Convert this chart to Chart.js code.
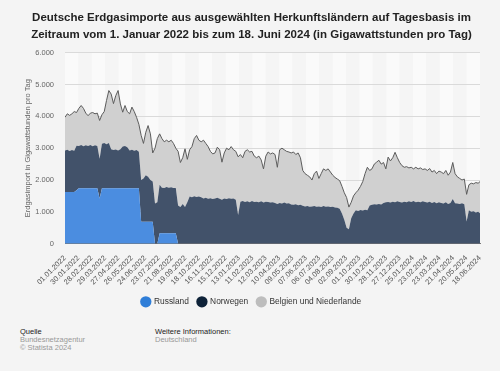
<!DOCTYPE html>
<html><head><meta charset="utf-8">
<script src="https://cdn.jsdelivr.net/npm/chart.js@4.4.1/dist/chart.umd.min.js"></script>
<style>
html,body{margin:0;padding:0;background:#f4f4f4;width:500px;height:371px;overflow:hidden;font-family:"Liberation Sans",Arial,sans-serif}
#wrap{position:absolute;left:0;top:0;width:500px;height:320px}
.foot{position:absolute;font-size:7.5px;line-height:8px}
.foot .h{color:#222}
.foot .g{color:#999}
</style></head><body>
<div id="wrap"><canvas id="c" width="500" height="320"></canvas></div>
<div class="foot" style="left:20px;top:328px"><div class="h">Quelle</div><div class="g">Bundesnetzagentur</div><div class="g">© Statista 2024</div></div>
<div class="foot" style="left:155px;top:328px"><div class="h">Weitere Informationen:</div><div class="g">Deutschland</div></div>
<script>
const tickLabels = ["01.01.2022","30.01.2022","28.02.2022","29.03.2022","27.04.2022","26.05.2022","24.06.2022","23.07.2022","21.08.2022","19.09.2022","18.10.2022","16.11.2022","15.12.2022","13.01.2023","11.02.2023","12.03.2023","10.04.2023","09.05.2023","07.06.2023","06.07.2023","04.08.2023","02.09.2023","01.10.2023","30.10.2023","28.11.2023","27.12.2023","25.01.2024","23.02.2024","23.03.2024","21.04.2024","20.05.2024","18.06.2024"];

// day index since 01.01.2022
const days = [0,5,10,15,20,25,30,35,40,45,50,55,60,65,70,75,80,85,90,95,100,105,110,115,120,125,130,135,140,145,150,155,160,165,170,175,180,185,190,195,200,205,210,215,220,225,230,235,240,245,250,255,260,265,270,275,280,285,290,295,300,305,310,315,320,325,330,335,340,345,350,355,360,365,370,375,380,385,390,395,400,405,410,415,420,425,430,435,440,445,450,455,460,465,470,475,480,485,490,495,500,505,510,515,520,525,530,535,540,545,550,555,560,565,570,575,580,585,590,595,600,605,610,615,620,625,630,635,640,645,650,655,660,665,670,675,680,685,690,695,700,705,710,715,720,725,730,735,740,745,750,755,760,765,770,775,780,785,790,795,800,805,810,815,820,825,830,835,840,845,850,855,860,865,870,875,880,885,890,895,899];

const russland = [1620,1620,1620,1620,1620,1680,1740,1740,1740,1740,1740,1740,1740,1740,1740,1420,1740,1740,1740,1740,1740,1740,1740,1740,1740,1740,1740,1740,1740,1740,1740,1740,1740,690,690,690,690,690,690,0,0,330,330,330,330,330,330,330,330,0,0,0,0,0,0,0,0,0,0,0,0,0,0,0,0,0,0,0,0,0,0,0,0,0,0,0,0,0,0,0,0,0,0,0,0,0,0,0,0,0,0,0,0,0,0,0,0,0,0,0,0,0,0,0,0,0,0,0,0,0,0,0,0,0,0,0,0,0,0,0,0,0,0,0,0,0,0,0,0,0,0,0,0,0,0,0,0,0,0,0,0,0,0,0,0,0,0,0,0,0,0,0,0,0,0,0,0,0,0,0,0,0,0,0,0,0,0,0,0,0,0,0,0,0,0,0,0,0,0,0,0];

const norwegen = [1310,1330,1290,1320,1300,1400,1330,1360,1320,1350,1330,1360,1320,1350,1330,1250,1400,1420,1380,1420,1230,1200,1220,1190,1230,1310,1330,1290,1190,1210,1180,1200,1150,1310,1360,1460,1410,1310,1260,1260,1300,1520,1430,1420,1450,1430,1440,1420,1420,1200,1150,1250,1150,1300,1480,1460,1490,1470,1480,1460,1420,1440,1410,1430,1400,1420,1440,1410,1380,1420,1400,1430,1410,1420,1380,900,1320,1340,1310,1330,1300,1340,1310,1320,1300,1330,1290,1320,1310,1290,1300,1280,1250,1280,1260,1290,1260,1270,1230,1220,1240,1210,1220,1190,1170,1180,1160,1170,1180,1160,1170,1150,1180,1160,1170,1150,1160,1140,1130,1100,950,750,500,450,800,950,1050,1030,1060,1040,1070,1050,1200,1220,1240,1230,1250,1230,1280,1300,1310,1290,1320,1300,1330,1310,1290,1320,1300,1330,1310,1340,1300,1320,1300,1330,1310,1290,1320,1280,1310,1270,1300,1280,1260,1300,1250,1280,1400,1270,1260,1250,1270,1240,700,1050,1000,1020,980,1000,960];

const belgienNL = [1040,1130,1120,1140,1230,1040,1180,1240,1190,1010,950,1000,1060,990,1030,1200,910,990,1380,1650,1730,1460,1690,1880,1420,1080,1270,1120,1150,1340,1230,1030,860,1400,1100,1350,1610,1450,900,1740,2000,1600,1540,1450,1470,1440,1480,1400,1250,1700,1400,1450,1830,1350,1470,1590,1810,1930,1770,1740,1830,1710,1640,1470,1420,1430,1590,1540,1180,1430,1600,1520,1640,1530,1520,1830,1480,1360,1590,1620,1580,1560,1440,1380,1450,1300,1060,1430,1570,1530,1550,1520,1150,1670,1740,1660,1640,1610,1620,1660,1560,1640,1480,1110,1030,970,940,830,1020,1120,880,1050,1170,1140,1180,1100,990,940,900,880,850,850,950,700,500,550,550,650,740,910,1130,1350,1100,1130,1260,1330,1370,1270,1270,1050,1410,1310,1380,1570,1370,1240,1160,1080,1120,1050,1090,1010,1100,1030,1080,1000,1040,1010,1040,970,990,930,980,970,940,1000,900,970,1150,930,840,800,730,790,850,800,900,860,940,900,990];

const seriesNames = ["Russland","Norwegen","Belgien und Niederlande"];
const areaColors = ["#4b8de0","#42526a","#d0d0d0"];
const legendColors = ["#2f7ed8","#0e2238","#bdbdbd"];

function pts(arr){ return arr.map((v,i)=>({x:days[i], y:v})); }

const bands = {
  id:'bands',
  beforeDraw(chart){
    const {ctx, chartArea:a, scales:{x}} = chart;
    ctx.save();
    ctx.fillStyle = '#f4f4f4';
    ctx.fillRect(0,0,chart.width,chart.height);
    for(let i=0;i<tickLabels.length-1;i++){
      const x0 = x.getPixelForValue(i*29), x1 = x.getPixelForValue((i+1)*29);
      ctx.fillStyle = (i%2===0) ? '#fafafa' : '#f5f5f5';
      ctx.fillRect(x0, a.top, x1-x0, a.bottom-a.top);
    }
    ctx.restore();
  }
};

const fmt = v => String(v).replace(/\B(?=(\d{3})+(?!\d))/g,'.');
const FF = '"Liberation Sans", Arial, sans-serif';

new Chart(document.getElementById('c'), {
  type:'line',
  data:{ datasets:[
    {label:seriesNames[0], data:pts(russland), backgroundColor:areaColors[0], borderWidth:0, fill:'origin', pointRadius:0},
    {label:seriesNames[1], data:pts(norwegen), backgroundColor:areaColors[1], borderWidth:0, fill:'-1', pointRadius:0},
    {label:seriesNames[2], data:pts(belgienNL), backgroundColor:areaColors[2], borderColor:'#5c5c5c', borderWidth:1, fill:'-1', pointRadius:0}
  ]},
  options:{
    responsive:false, animation:false,
    layout:{padding:{left:23,right:20,top:6,bottom:4}},
    elements:{line:{tension:0}},
    plugins:{
      title:{display:true, text:["Deutsche Erdgasimporte aus ausgewählten Herkunftsländern auf Tagesbasis im","Zeitraum vom 1. Januar 2022 bis zum 18. Juni 2024 (in Gigawattstunden pro Tag)"],
        color:'#222', font:{family:FF, size:11.5, weight:'bold', lineHeight:1.42}, padding:{top:4,bottom:10}},
      legend:{position:'bottom', labels:{usePointStyle:true, pointStyle:'circle', boxWidth:8, boxHeight:8, padding:9, color:'#333',
        font:{family:FF, size:8.4},
        generateLabels(chart){ return chart.data.datasets.map((d,i)=>({text:d.label, fillStyle:legendColors[i], strokeStyle:legendColors[i], lineWidth:0, pointStyle:'circle', datasetIndex:i, fontColor:'#333'})); }}},
      tooltip:{enabled:false}
    },
    scales:{
      x:{type:'linear', min:0, max:899,
        grid:{display:false}, border:{display:true, color:'#777'},
        ticks:{stepSize:29, autoSkip:false, maxRotation:45, minRotation:45, padding:2, color:'#555',
          font:{family:FF, size:7.5},
          callback:(v)=> tickLabels[Math.round(v/29)] }},
      y:{stacked:true, min:0, max:6000,
        afterFit(s){ s.width = 42; },
        grid:{color:'#dadada', drawTicks:false}, border:{display:false},
        ticks:{stepSize:1000, padding:11, color:'#666', font:{family:FF, size:7.5}, callback:fmt},
        title:{display:true, text:'Erdgasimport in Gigawattstunden pro Tag', color:'#666', font:{family:FF, size:7.5}, padding:{top:0,bottom:2}}}
    }
  },
  plugins:[bands]
});
</script>
</body></html>
